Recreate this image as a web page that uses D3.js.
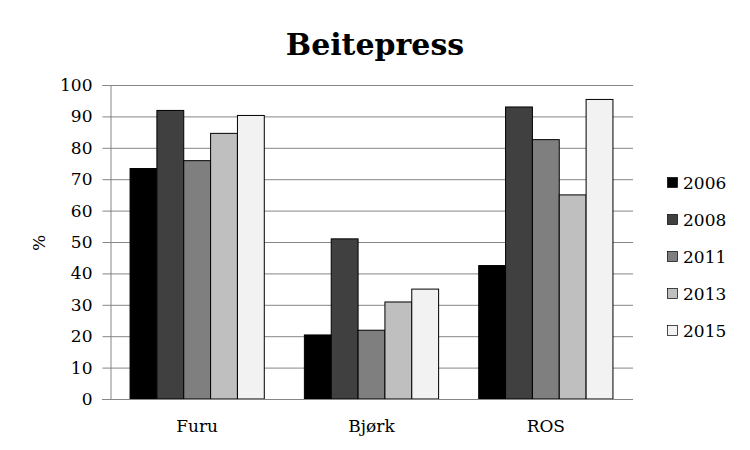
<!DOCTYPE html>
<html lang="no">
<head>
    <meta charset="UTF-8">
    <title>Beitepress</title>
    <style>
        * { margin:0; border:0; box-sizing:border-box; }
        body { background:#fff; }
        text { font-family:"DejaVu Serif",serif; fill:#000; }
    </style>
    <script src="https://unpkg.com/d3@7.6.1/dist/d3.min.js"></script>
</head>
<body>
    <div id="chart"></div>
    <script>
        const categories=["Furu","Bjørk","ROS"];
        const years=["2006","2008","2011","2013","2015"];
        const values={
            "2006":[73.4,20.4,42.5],
            "2008":[91.9,51.0,93.0],
            "2011":[75.9,21.9,82.6],
            "2013":[84.6,30.9,65.0],
            "2015":[90.3,35.0,95.4]
        };
        const colors=["#000000","#404040","#7f7f7f","#bfbfbf","#f2f2f2"];
        const yTicks=[0,10,20,30,40,50,60,70,80,90,100];
        // red threshold lines
        const limitCats=["Furu","ROS"];
        const limitValues=[30.3,39.8];

        const width=750, height=450;
        const marginTop=85, marginRight=117, marginBottom=51, marginLeft=110;

        const svg=d3.select("#chart").append("svg")
            .attr("width",width)
            .attr("height",height);

        const defs=svg.append("defs");
        const f=defs.append("filter").attr("id","shadow")
            .attr("x","-10%").attr("y","-200%").attr("width","120%").attr("height","500%");
        f.append("feDropShadow").attr("dx",0).attr("dy",2).attr("stdDeviation",1.5)
            .attr("flood-color","#000").attr("flood-opacity",0.35);

        const x0=d3.scaleBand(categories,[marginLeft,width-marginRight]).paddingInner(0.23).paddingOuter(0.115);
        const x1=d3.scaleBand(years,[0,x0.bandwidth()]);
        const y=d3.scaleLinear([0,100],[height-marginBottom,marginTop]);
        const color=d3.scaleOrdinal(years,colors);

        // grid
        svg.append("g")
            .selectAll("line")
            .data(yTicks.slice(1))
            .join("line")
              .attr("x1",marginLeft).attr("x2",width-marginRight)
              .attr("y1",d=>y(d)+0.5).attr("y2",d=>y(d)+0.5)
              .attr("stroke","#868686");

        const yAxis=d3.axisLeft(y).tickValues(yTicks).tickSize(8).tickPadding(10);
        svg.append("g")
            .attr("transform",`translate(${marginLeft+0.5},0)`)
            .call(yAxis)
            .call(g=>g.selectAll("path,line").attr("stroke","#868686"))
            .call(g=>g.selectAll("text").attr("font-size",17).attr("font-family","DejaVu Serif"));

        // bars
        svg.append("g")
            .selectAll("g")
            .data(categories)
            .join("g")
              .attr("transform",d=>`translate(${x0(d)},0)`)
            .selectAll("rect")
            .data((c,i)=>years.map(yr=>({year:yr,value:values[yr][i]})))
            .join("rect")
              .attr("x",d=>x1(d.year))
              .attr("y",d=>y(d.value))
              .attr("width",x1.bandwidth())
              .attr("height",d=>y(0)-y(d.value))
              .attr("fill",d=>color(d.year))
              .attr("stroke","#000")
              .attr("stroke-width",1);

        // x axis line
        svg.append("line")
            .attr("x1",marginLeft-8).attr("x2",width-marginRight)
            .attr("y1",y(0)+0.5).attr("y2",y(0)+0.5)
            .attr("stroke","#868686");

        svg.append("g")
            .selectAll("text")
            .data(categories)
            .join("text")
              .attr("x",d=>x0(d)+x0.bandwidth()/2)
              .attr("y",height-18)
              .attr("text-anchor","middle")
              .attr("font-size",17)
              .text(d=>d);

        // threshold lines
        svg.append("g")
            .selectAll("line")
            .data(limitCats)
            .join("line")
              .attr("x1",(d,i)=>i===0?marginLeft:x0(d)-6)
              .attr("x2",d=>x0(d)+x0.bandwidth()+1)
              .attr("y1",(d,i)=>y(limitValues[i]))
              .attr("y2",(d,i)=>y(limitValues[i]))
              .attr("stroke","#e8000b")
              .attr("stroke-width",4)
              .attr("filter","url(#shadow)");

        // title
        svg.append("text")
            .attr("x",375).attr("y",55)
            .attr("text-anchor","middle")
            .attr("font-size",30)
            .attr("font-weight","bold")
            .text("Beitepress");

        // y label
        svg.append("text")
            .attr("transform","translate(45,243) rotate(-90)")
            .attr("text-anchor","middle")
            .attr("font-size",17)
            .text("%");

        // legend
        const legend=svg.append("g")
            .selectAll("g")
            .data(years)
            .join("g")
              .attr("transform",(d,i)=>`translate(667,${183+i*37})`);
        legend.append("rect")
            .attr("x",0.5).attr("y",-5.5)
            .attr("width",10).attr("height",10)
            .attr("fill",d=>color(d))
            .attr("stroke","#000").attr("stroke-width",0.7);
        legend.append("text")
            .attr("x",16).attr("y",6)
            .attr("font-size",17)
            .text(d=>d);
    </script>
</body>
</html>
